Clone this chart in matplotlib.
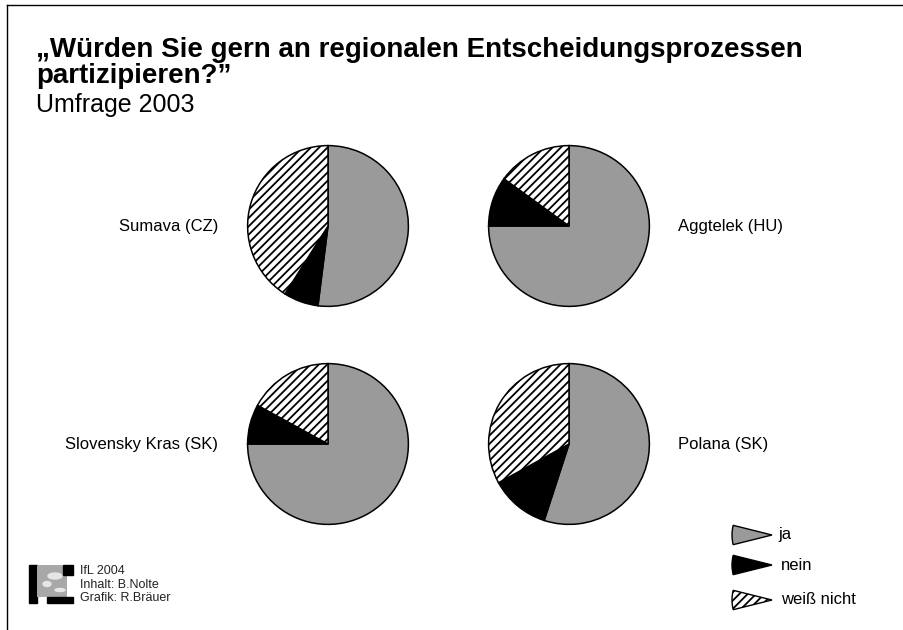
import matplotlib.pyplot as plt
from matplotlib.patches import Wedge, Rectangle, Circle, Ellipse

plt.rcParams['font.family'] = ['Liberation Sans', 'DejaVu Sans']
plt.rcParams['hatch.linewidth'] = 1.3

# data (percent)
regions = ['Sumava (CZ)', 'Aggtelek (HU)', 'Slovensky Kras (SK)', 'Polana (SK)']
answers = ['ja', 'nein', 'weiß nicht']
ja = [52, 75, 75, 55]
nein = [7, 10, 8, 12]
weiss_nicht = [41, 15, 17, 33]

colors = ['#9a9a9a', 'black', 'white']
hatches = ['', '', '////']

W, H = 904, 630
fig = plt.figure(figsize=(W / 100, H / 100), dpi=100)

# full-figure axes in pixel units for text, frame, legend
bg = fig.add_axes([0, 0, 1, 1])
bg.set_xlim(0, W)
bg.set_ylim(H, 0)
bg.axis('off')

# frame (only top and left visible)
bg.plot([7, W], [5, 5], color='black', lw=1.0)
bg.plot([7, 7], [5, H], color='black', lw=1.0)

bg.text(36, 57, '„Würden Sie gern an regionalen Entscheidungsprozessen',
        fontsize=20, fontweight='bold', va='baseline')
bg.text(36, 83, 'partizipieren?”', fontsize=20, fontweight='bold', va='baseline')
bg.text(36, 112, 'Umfrage 2003', fontsize=18, va='baseline')

# pies
centers = [(328, 226), (569, 226), (328, 444), (569, 444)]
r = 82
for i, (cx, cy) in enumerate(centers):
    ax = fig.add_axes([(cx - r) / W, 1 - (cy + r) / H, 2 * r / W, 2 * r / H])
    wedges, _ = ax.pie([ja[i], nein[i], weiss_nicht[i]], colors=colors,
                       startangle=90, counterclock=False, radius=1,
                       wedgeprops=dict(edgecolor='black', linewidth=1.1))
    for w, h in zip(wedges, hatches):
        w.set_hatch(h)
    ax.set_xlim(-1.02, 1.02)
    ax.set_ylim(-1.02, 1.02)
    if cx < W / 2:
        bg.text(218, cy + 1, regions[i], fontsize=12, ha='right', va='center')
    else:
        bg.text(678, cy + 1, regions[i], fontsize=12, ha='left', va='center')

# legend with wedge-shaped keys
for k, (lab, y) in enumerate(zip(answers, [535, 565, 600])):
    wd = Wedge((772, y), 40, 166, 194, facecolor=colors[k], edgecolor='black',
               lw=1.0, hatch=hatches[k])
    bg.add_patch(wd)
    bg.text(778 if k == 0 else 781, y, lab, fontsize=12, va='center')

# credits with a simple logo
bg.add_patch(Rectangle((29, 565), 8, 38, color='black'))
globe = Circle((50, 583), 21, color='#a8a8a8')
bg.add_patch(globe)
globe.set_clip_path(Rectangle((37, 565), 30, 32, transform=bg.transData))
for ex, ey, ew, eh in [(55, 576, 14, 6), (47, 584, 8, 5), (60, 590, 10, 3)]:
    blob = Ellipse((ex, ey), ew, eh, color='#e6e6e6')
    bg.add_patch(blob)
    blob.set_clip_path(globe)
bg.add_patch(Rectangle((63, 565), 10, 10, color='black'))
bg.add_patch(Rectangle((47, 597), 26, 6, color='black'))
for t, y in zip(['IfL 2004', 'Inhalt: B.Nolte', 'Grafik: R.Bräuer'], [571, 585, 598]):
    bg.text(80, y, t, fontsize=9, va='center', color='#222222')

fig.savefig('out.png', dpi=100)
